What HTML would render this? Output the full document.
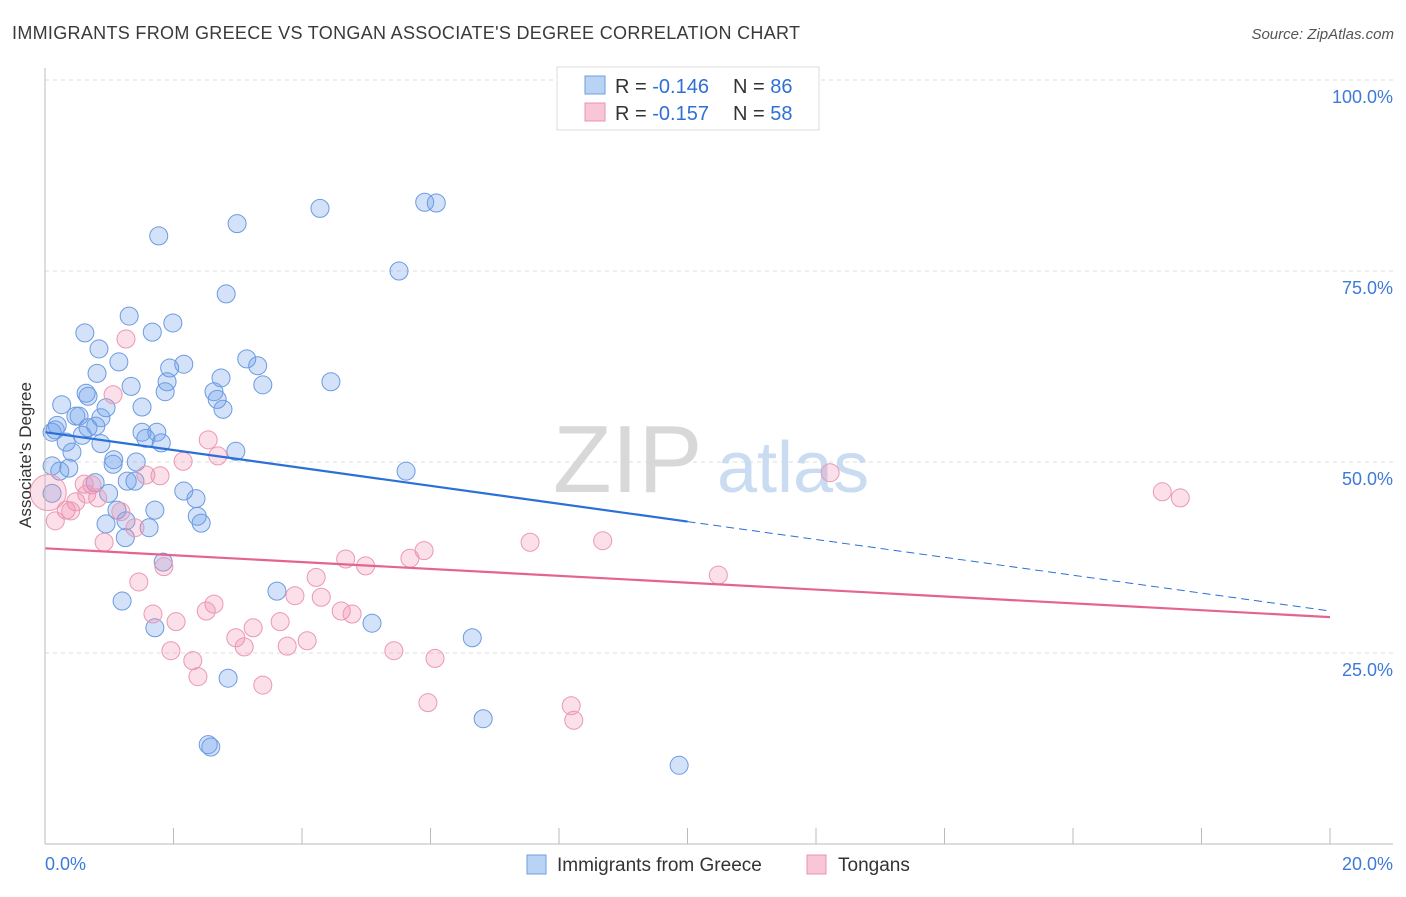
<!DOCTYPE html>
<html><head><meta charset="utf-8"><style>
body{margin:0;background:#fff;font-family:"Liberation Sans",sans-serif;}
svg text{font-family:"Liberation Sans",sans-serif;}
</style></head><body>
<svg id="chart" width="1406" height="892" xmlns="http://www.w3.org/2000/svg">
<text x="12" y="39" font-size="18" fill="#3a3a3a" textLength="788">IMMIGRANTS FROM GREECE VS TONGAN ASSOCIATE'S DEGREE CORRELATION CHART</text>
<text x="1394" y="39" font-size="15" fill="#555" font-style="italic" text-anchor="end">Source: ZipAtlas.com</text>
<g id="grid"></g>
<g><text x="553" y="492" font-size="96" fill="#d8d8d8" font-family="Liberation Serif">ZIP</text><text x="717" y="492" font-size="72" fill="#c9dcf2">atlas</text></g>
<g id="pts"></g>
<g id="trend"></g>
<g id="axes"></g>
<text x="31" y="455" font-size="17" fill="#333" text-anchor="middle" transform="rotate(-90 31 455)">Associate's Degree</text>
<g>
<rect x="557" y="67" width="262" height="63" fill="#fff" stroke="#ddd"/>
<rect x="585" y="76" width="20" height="18" fill="#b9d3f4" stroke="#6e9de0"/>
<rect x="585" y="103" width="20" height="18" fill="#f8c6d6" stroke="#e994b0"/>
<text x="615" y="93" font-size="20" fill="#333">R = <tspan fill="#2f6fd6">-0.146</tspan></text>
<text x="733" y="93" font-size="20" fill="#333">N = <tspan fill="#2f6fd6">86</tspan></text>
<text x="615" y="120" font-size="20" fill="#333">R = <tspan fill="#2f6fd6">-0.157</tspan></text>
<text x="733" y="120" font-size="20" fill="#333">N = <tspan fill="#2f6fd6">58</tspan></text>
</g>
<g>
<rect x="527" y="855" width="19" height="19" fill="#b9d3f4" stroke="#6e9de0"/>
<text x="557" y="871" font-size="19" fill="#333">Immigrants from Greece</text>
<rect x="807" y="855" width="19" height="19" fill="#f8c6d6" stroke="#e994b0"/>
<text x="838" y="871" font-size="19" fill="#333">Tongans</text>
</g>
</svg>
<script>
const yTicks=[25,50,75,100];
const yTickLabels=["25.0%","50.0%","75.0%","100.0%"];
const xTickLabels=["0.0%","20.0%"];
const greeceX=[1.77,2.99,4.28,5.91,6.09,5.51,2.82,1.31,1.99,0.62,1.67,0.84,1.15,2.16,3.14,3.31,1.94,0.81,2.74,4.45,3.39,1.90,1.34,0.64,1.87,2.63,0.67,2.68,0.26,0.95,1.51,2.77,0.48,0.53,0.87,0.19,0.79,0.67,0.11,0.58,1.51,1.74,1.57,0.33,0.87,1.81,0.42,2.97,1.07,1.06,1.42,0.11,0.37,5.62,0.23,1.28,1.40,0.78,2.16,0.99,2.35,0.11,1.12,1.71,2.37,0.95,1.26,2.43,1.62,1.25,1.84,3.61,1.20,5.09,1.71,6.65,2.85,6.82,2.54,2.58,9.87,0.16];
const greeceY=[79.6,81.2,83.2,84.0,83.9,75.0,72.0,69.1,68.2,66.9,67.0,64.8,63.1,62.8,63.5,62.6,62.3,61.6,61.0,60.5,60.1,60.5,59.9,59.0,59.2,59.2,58.6,58.2,57.5,57.1,57.2,56.9,56.0,56.0,55.8,54.8,54.7,54.5,53.9,53.5,53.9,53.9,53.1,52.6,52.4,52.5,51.3,51.4,50.3,49.7,50.0,49.5,49.2,48.8,48.8,47.5,47.5,47.3,46.2,45.9,45.2,45.9,43.7,43.7,42.9,41.9,42.3,42.0,41.4,40.1,36.9,33.1,31.8,28.9,28.3,27.0,21.7,16.4,13.0,12.7,10.3,54.2];
const tonganX=[1.26,1.06,2.54,2.69,2.15,1.57,1.79,12.22,17.39,17.67,0.61,0.73,0.65,0.82,0.48,0.33,0.40,1.18,0.16,1.40,0.92,7.55,8.68,5.90,5.68,4.68,4.99,1.85,1.46,10.48,4.22,3.89,4.30,2.63,2.51,1.68,4.61,4.78,2.04,3.66,3.24,2.97,4.08,3.10,3.77,1.96,5.43,6.07,2.30,2.38,3.39,5.96,8.19,8.23,0.05];
const tonganY=[66.1,58.8,52.9,50.8,50.1,48.3,48.2,48.6,46.1,45.3,47.1,47.0,45.8,45.3,44.8,43.7,43.6,43.5,42.3,41.4,39.5,39.5,39.7,38.4,37.4,37.3,36.4,36.3,34.3,35.2,34.9,32.5,32.3,31.4,30.5,30.1,30.5,30.1,29.1,29.1,28.3,27.0,26.6,25.8,25.9,25.3,25.3,24.3,24.0,21.9,20.8,18.5,18.1,16.2,46.0];
const trendGreece=[53.9,30.5];
const trendTongan=[38.7,29.7];
const NS="http://www.w3.org/2000/svg";
const X0=45,X1=1330,Y0=844,Y100=80;
const sx=v=>X0+(v/20)*(X1-X0);
const sy=v=>Y0-(v/100)*(Y0-Y100);
function mk(tag,attrs,parent){const e=document.createElementNS(NS,tag);for(const k in attrs)e.setAttribute(k,attrs[k]);parent.appendChild(e);return e;}
const grid=document.getElementById('grid'),axes=document.getElementById('axes'),pts=document.getElementById('pts'),trend=document.getElementById('trend');
yTicks.forEach((t,i)=>{
 const l=mk('line',{x1:X0,x2:1393,y1:sy(t),y2:sy(t),stroke:'#ddd','stroke-dasharray':'4,4'},grid);
 
 
 const tx=mk('text',{x:1393,y:sy(t)+23,'font-size':18,fill:'#3d7ad8','text-anchor':'end'},axes);
 tx.textContent=yTickLabels[i];
 
 
});
const ax=mk('line',{x1:X0,x2:X0,y1:68,y2:Y0,stroke:'#bbb'},axes);


const bx=mk('line',{x1:X0,x2:1393,y1:Y0,y2:Y0,stroke:'#bbb'},axes);


for(let v=2;v<=20;v+=2){
 const t=mk('line',{x1:sx(v),x2:sx(v),y1:828,y2:Y0,stroke:'#bbb'},axes);
 
 
}
[[0,'start',45],[20,'end',1393]].forEach((d,i)=>{
 const t=mk('text',{x:d[2],y:870,'font-size':18,fill:'#3d7ad8','text-anchor':d[1]},axes);
 t.textContent=xTickLabels[i];
 
 
});
function dots(xs,ys,fill,stroke,name){
 xs.forEach((x,i)=>{
  const big=(name==='tongan-point'&&x<0.1);
  const c=mk('circle',{cx:sx(x),cy:sy(ys[i]),r:big?18:9,fill:fill,stroke:stroke,'stroke-width':1},pts);
  
  
 });
}
dots(greeceX,greeceY,'rgba(110,160,235,0.3)','#6b9be0','greece-point');
dots(tonganX,tonganY,'rgba(240,140,175,0.28)','#eb98b3','tongan-point');
const gMid=trendGreece[0]+(trendGreece[1]-trendGreece[0])*0.5;
const l1=mk('line',{x1:sx(0),y1:sy(trendGreece[0]),x2:sx(10),y2:sy(gMid),stroke:'#2b6fd8','stroke-width':2.2},trend);


const l2=mk('line',{x1:sx(10),y1:sy(gMid),x2:sx(20),y2:sy(trendGreece[1]),stroke:'#2b6fd8','stroke-width':1,'stroke-dasharray':'8,5'},trend);


const l3=mk('line',{x1:sx(0),y1:sy(trendTongan[0]),x2:sx(20),y2:sy(trendTongan[1]),stroke:'#e5648f','stroke-width':2.2},trend);


</script>
</body></html>
